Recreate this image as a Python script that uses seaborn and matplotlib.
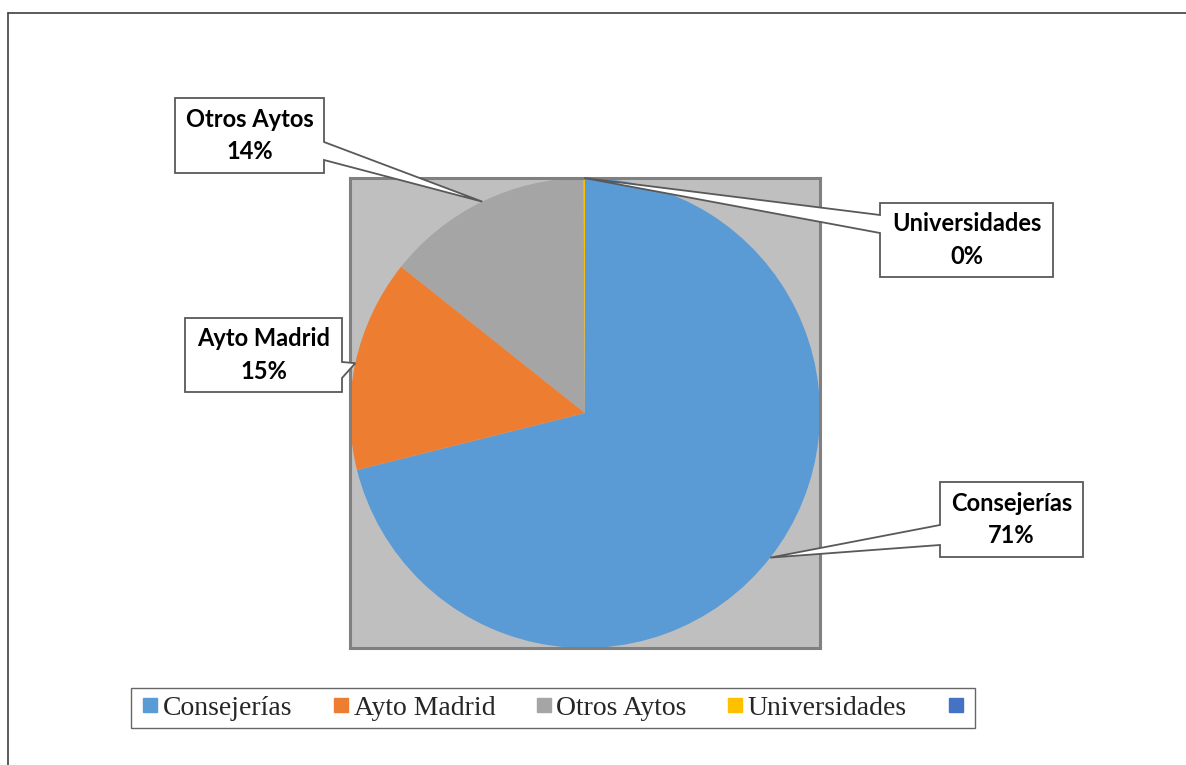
import matplotlib
matplotlib.use("Agg")
import numpy as np
import matplotlib.pyplot as plt
import seaborn as sns
from matplotlib.patches import Polygon
from matplotlib.lines import Line2D

categories = ["Consejerías", "Ayto Madrid", "Otros Aytos", "Universidades"]
values = [71.1, 14.6, 14.2, 0.1]
colors = ["#5B9BD5", "#ED7D31", "#A5A5A5", "#FFC000"]
extra_color = "#4472C4"  # fifth legend entry, no label

# callout boxes in image pixels: (x0, y0, x1, y1), side of pointer, pointer base (ya, yb)
boxes = {
    "Consejerías": ((940, 482, 1083, 557), "left", (525, 545)),
    "Ayto Madrid": ((185, 318, 342, 392), "right", (362, 378)),
    "Otros Aytos": ((175, 98, 324, 173), "right", (142, 160)),
    "Universidades": ((880, 203, 1053, 277), "left", (215, 233)),
}

W, H = 1186, 765
sns.set_theme(style="white")
plt.rcParams["font.family"] = ["Lato", "DejaVu Sans"]

fig = plt.figure(figsize=(W / 100, H / 100), dpi=100)
ax = fig.add_axes([350 / W, 1 - 648 / H, 470 / W, 470 / H])
ax.set_facecolor("#BFBFBF")

wedges, _ = ax.pie(values, colors=colors, startangle=90, counterclock=False,
                   radius=1, center=(0, 0), frame=True,
                   wedgeprops={"linewidth": 0, "edgecolor": "none"})
ax.set_xlim(-1, 1)
ax.set_ylim(-1, 1)
ax.set_aspect("auto")
ax.set_xticks([])
ax.set_yticks([])
for s in ax.spines.values():
    s.set_color("#808080")
    s.set_linewidth(2.2)

fig.canvas.draw()


def fx(px):
    return px / W


def fy(py):
    return 1 - py / H


inv = fig.transFigure.inverted()
total = sum(values)
for w, cat, val in zip(wedges, categories, values):
    mid = np.deg2rad((w.theta1 + w.theta2) / 2)
    tip = inv.transform(ax.transData.transform((np.cos(mid), np.sin(mid))))
    (x0, y0, x1, y1), side, (ya, yb) = boxes[cat]
    if side == "left":
        pts = [(fx(x0), fy(y0)), (fx(x1), fy(y0)), (fx(x1), fy(y1)), (fx(x0), fy(y1)),
               (fx(x0), fy(yb)), tuple(tip), (fx(x0), fy(ya))]
    else:
        pts = [(fx(x0), fy(y0)), (fx(x1), fy(y0)), (fx(x1), fy(ya)), tuple(tip),
               (fx(x1), fy(yb)), (fx(x1), fy(y1)), (fx(x0), fy(y1))]
    fig.add_artist(Polygon(pts, closed=True, facecolor="white", edgecolor="#595959",
                           linewidth=1.3, transform=fig.transFigure, zorder=5))
    pct = round(val / total * 100)
    fig.text(fx((x0 + x1) / 2), fy((y0 + y1) / 2), f"{cat}\n{pct}%", ha="center",
             va="center", fontsize=17, fontweight="bold", color="black",
             linespacing=1.5, zorder=6)

# legend
handles = [Line2D([], [], marker="s", linestyle="", markersize=10, color=c) for c in colors]
handles.append(Line2D([], [], marker="s", linestyle="", markersize=10, color=extra_color))
labels = categories + [""]
leg = fig.legend(handles, labels, loc="center", bbox_to_anchor=(fx(553), fy(708)),
                 ncol=5, frameon=True, fancybox=False, edgecolor="#404040",
                 prop={"family": "Liberation Serif", "size": 20},
                 handletextpad=0.0, columnspacing=1.3, borderpad=0.25,
                 handlelength=0.9)
leg.get_frame().set_linewidth(1.0)

# outer chart frame
fig.add_artist(Line2D([fx(8), 1], [fy(13), fy(13)], color="#404040", lw=1.2,
                      transform=fig.transFigure))
fig.add_artist(Line2D([fx(8), fx(8)], [fy(13), 0], color="#404040", lw=1.2,
                      transform=fig.transFigure))

fig.savefig("out.png", dpi=100)
